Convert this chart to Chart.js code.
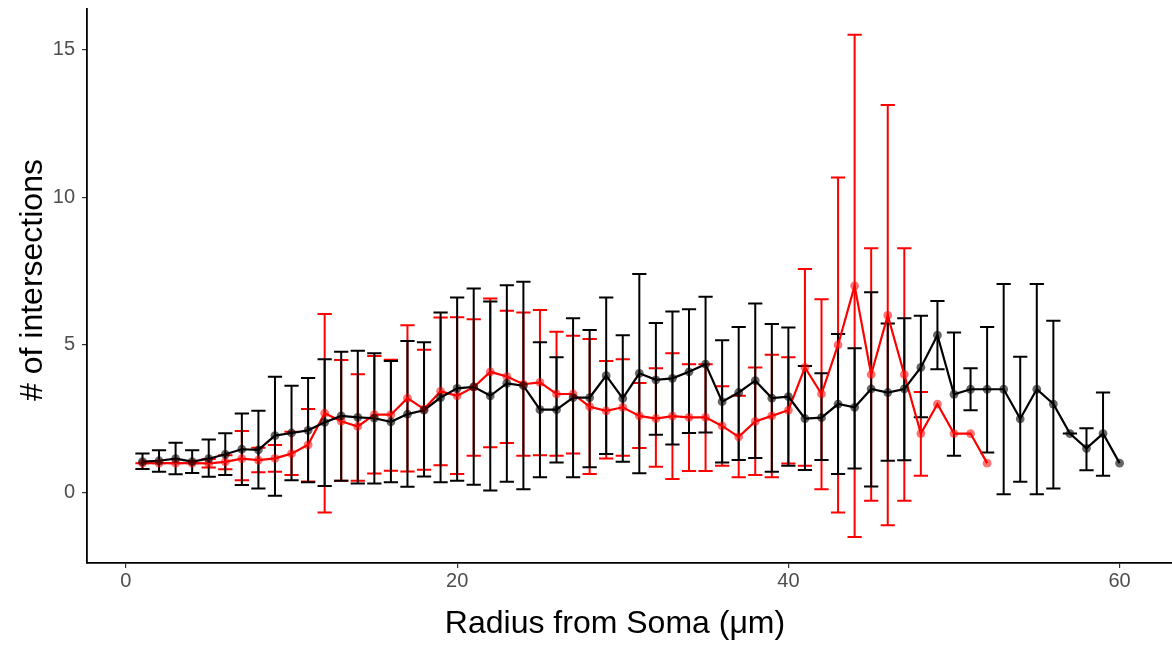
<!DOCTYPE html>
<html>
<head>
<meta charset="utf-8">
<script src="https://cdn.jsdelivr.net/npm/chart.js@4.4.1/dist/chart.umd.min.js"></script>
<style>
  html, body { margin: 0; padding: 0; background: #ffffff; overflow: hidden; }
  #wrap { width: 1172px; height: 648px; position: relative; overflow: hidden; }
  #c { position: absolute; left: 0; top: 0; }
</style>
</head>
<body>
<div id="wrap"><canvas id="c" width="1177" height="648"></canvas></div>
<script>
// ---- data ----
const blackX = [1,2,3,4,5,6,7,8,9,10,11,12,13,14,15,16,17,18,19,20,21,22,23,24,25,26,27,28,29,30,31,32,33,34,35,36,37,38,39,40,41,42,43,44,45,46,47,48,49,50,51,52,53,54,55,56,57,58,59,60];
const blackMean = [1.05,1.08,1.15,1.05,1.15,1.3,1.47,1.45,1.93,2.02,2.11,2.38,2.6,2.55,2.52,2.4,2.66,2.79,3.22,3.53,3.58,3.28,3.7,3.62,2.81,2.81,3.22,3.22,3.96,3.19,4.04,3.82,3.87,4.09,4.35,3.08,3.39,3.79,3.2,3.25,2.51,2.54,3.0,2.89,3.51,3.39,3.51,4.24,5.33,3.33,3.5,3.5,3.5,2.5,3.5,3.0,2.0,1.5,2.0,1.0];
const blackLow = [0.8,0.71,0.62,0.67,0.54,0.6,0.26,0.14,-0.1,0.42,0.35,0.23,0.4,0.31,0.31,0.35,0.2,0.55,0.35,0.4,0.27,0.07,0.37,0.12,0.52,1.02,0.52,0.86,1.31,1.05,0.66,1.96,1.63,2.02,2.04,1.02,1.11,1.17,0.71,0.91,0.77,1.11,0.63,0.82,0.21,1.08,1.1,2.55,4.18,1.25,2.79,1.36,-0.05,0.37,-0.05,0.14,2.0,0.76,0.57,null];
const blackHigh = [1.33,1.44,1.69,1.44,1.8,2.01,2.68,2.77,3.92,3.62,3.88,4.52,4.77,4.8,4.72,4.46,5.13,5.09,6.1,6.61,6.91,6.47,7.02,7.14,5.09,4.58,5.9,5.51,6.61,5.33,7.4,5.74,6.13,6.21,6.63,5.16,5.61,6.4,5.71,5.59,4.29,4.04,5.37,4.89,6.78,5.73,5.9,5.99,6.49,5.42,4.21,5.61,7.06,4.6,7.06,5.82,2.0,2.18,3.39,null];

const redX = [1,2,3,4,5,6,7,8,9,10,11,12,13,14,15,16,17,18,19,20,21,22,23,24,25,26,27,28,29,30,31,32,33,34,35,36,37,38,39,40,41,42,43,44,45,46,47,48,49,50,51,52];
const redMean = [1.0,1.0,1.0,1.0,0.99,1.04,1.15,1.1,1.16,1.32,1.62,2.69,2.42,2.24,2.64,2.64,3.2,2.83,3.43,3.28,3.57,4.09,3.93,3.67,3.73,3.34,3.34,2.91,2.77,2.89,2.6,2.51,2.59,2.55,2.55,2.26,1.89,2.41,2.6,2.79,4.24,3.34,5.0,7.0,4.0,6.0,4.0,2.0,3.0,2.0,2.0,1.0];
const redLow = [1.0,1.0,1.0,1.0,0.85,0.79,0.42,0.69,0.71,0.6,0.38,-0.67,0.4,0.4,0.65,0.74,0.72,0.78,0.93,0.63,1.25,1.54,1.68,1.25,1.27,1.25,1.33,0.63,1.16,1.25,1.51,0.88,0.46,0.73,0.73,0.91,0.52,0.6,0.52,0.99,0.91,0.12,-0.67,-1.5,-0.27,-1.1,-0.27,0.57,null,null,null,null];
const redHigh = [1.0,1.0,1.0,1.0,1.14,1.27,2.09,1.52,1.61,2.06,2.83,6.05,4.49,4.01,4.63,4.5,5.67,4.84,5.93,5.94,5.87,6.57,6.16,6.1,6.18,5.45,5.31,5.2,4.46,4.52,3.71,4.21,4.72,4.35,4.35,3.6,3.28,4.24,4.67,4.58,7.57,6.55,10.67,15.5,8.27,13.12,8.27,3.41,null,null,null,null];

const xTicks = [0, 20, 40, 60];
const yTicks = [0, 5, 10, 15];
const xTitle = 'Radius from Soma (μm)';
const yTitle = '# of intersections';

// ---- helpers ----
function pts(xs, ys) { return xs.map((x, i) => ({ x: x, y: ys[i] })); }
const FAMILY = '"Liberation Sans", Arial, sans-serif';

const errorBarPlugin = {
  id: 'errorBars',
  beforeDatasetsDraw(chart) {
    const xs = chart.scales.x, ys = chart.scales.y, ctx = chart.ctx;
    const groups = [
      { x: redX, lo: redLow, hi: redHigh, color: '#ff0000' },
      { x: blackX, lo: blackLow, hi: blackHigh, color: '#000000' }
    ];
    const half = 0.43;
    ctx.save();
    ctx.lineWidth = 2;
    ctx.lineCap = 'butt';
    groups.forEach(g => {
      ctx.strokeStyle = g.color;
      g.x.forEach((xv, i) => {
        const lo = g.lo[i], hi = g.hi[i];
        if (lo === null || hi === null) return;
        const px = xs.getPixelForValue(xv);
        const pl = xs.getPixelForValue(xv - half);
        const pr = xs.getPixelForValue(xv + half);
        const py1 = ys.getPixelForValue(lo);
        const py2 = ys.getPixelForValue(hi);
        ctx.beginPath();
        ctx.moveTo(px, py1); ctx.lineTo(px, py2);
        ctx.moveTo(pl, py1); ctx.lineTo(pr, py1);
        ctx.moveTo(pl, py2); ctx.lineTo(pr, py2);
        ctx.stroke();
      });
    });
    ctx.restore();
  }
};

const axisTitlePlugin = {
  id: 'axisTitles',
  afterDraw(chart) {
    const ctx = chart.ctx, a = chart.chartArea;
    ctx.save();
    ctx.fillStyle = '#000000';
    ctx.font = '32px ' + FAMILY;
    ctx.textAlign = 'center';
    ctx.textBaseline = 'middle';
    ctx.fillText(xTitle, 615, 624);
    ctx.translate(33, (a.top + a.bottom) / 2 - 6);
    ctx.rotate(-Math.PI / 2);
    ctx.fillText(yTitle, 0, 0);
    ctx.restore();
  }
};

const tickFont = { family: FAMILY, size: 20 };

new Chart(document.getElementById('c'), {
  type: 'scatter',
  data: {
    datasets: [
      { label: 'red line', data: pts(redX, redMean), showLine: true, borderColor: '#ff0000', borderWidth: 2.2, pointRadius: 0, order: 4 },
      { label: 'black line', data: pts(blackX, blackMean), showLine: true, borderColor: '#000000', borderWidth: 2.2, pointRadius: 0, order: 3 },
      { label: 'red points', data: pts(redX, redMean), showLine: false, pointRadius: 4.4, pointBackgroundColor: 'rgba(255,0,0,0.55)', pointBorderWidth: 0, order: 2 },
      { label: 'black points', data: pts(blackX, blackMean), showLine: false, pointRadius: 4.4, pointBackgroundColor: 'rgba(0,0,0,0.6)', pointBorderWidth: 0, order: 1 }
    ]
  },
  options: {
    responsive: false,
    animation: false,
    devicePixelRatio: 1,
    layout: { padding: { top: 9, right: 0, bottom: 0, left: 0 } },
    plugins: { legend: { display: false }, tooltip: { enabled: false } },
    scales: {
      x: {
        type: 'linear', min: -2.35, max: 63.2,
        afterFit: s => { s.height = 85; s.paddingLeft = 0; s.paddingRight = 0; },
        afterBuildTicks: s => { s.ticks = xTicks.map(v => ({ value: v })); },
        grid: { display: true, drawOnChartArea: false, drawTicks: true, tickLength: 5, color: '#333333', lineWidth: 1.2 },
        border: { display: true, color: '#000000', width: 1.8 },
        ticks: { color: '#4d4d4d', font: tickFont, padding: 1, maxRotation: 0, includeBounds: false },
        title: { display: false }
      },
      y: {
        type: 'linear', min: -2.38, max: 16.37,
        afterFit: s => { s.width = 87; s.paddingTop = 0; s.paddingBottom = 0; },
        afterBuildTicks: s => { s.ticks = yTicks.map(v => ({ value: v })); },
        grid: { display: true, drawOnChartArea: false, drawTicks: true, tickLength: 5, color: '#333333', lineWidth: 1.2 },
        border: { display: true, color: '#000000', width: 1.8 },
        ticks: { color: '#4d4d4d', font: tickFont, padding: 7, includeBounds: false },
        title: { display: false }
      }
    }
  },
  plugins: [errorBarPlugin, axisTitlePlugin]
});
</script>
</body>
</html>
